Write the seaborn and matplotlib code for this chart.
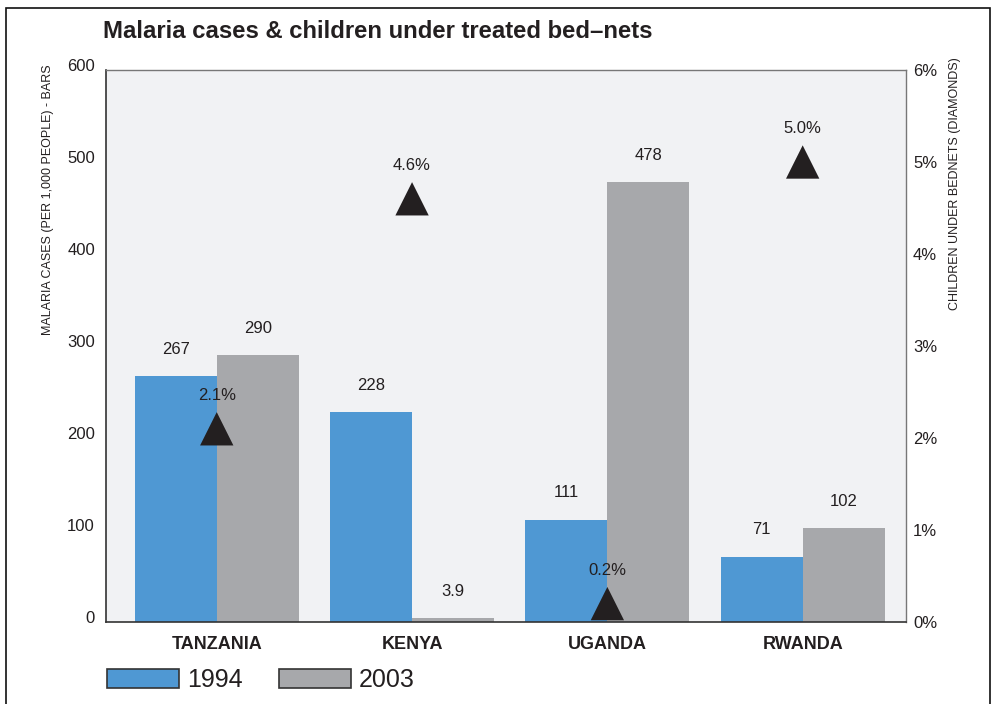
import matplotlib
matplotlib.use("Agg")
import matplotlib.pyplot as plt
import matplotlib.transforms as mtransforms
from matplotlib.patches import Patch, Rectangle
import seaborn as sns
import pandas as pd

countries = ["TANZANIA", "KENYA", "UGANDA", "RWANDA"]
years = ["1994", "2003"]
cases_1994 = [267, 228, 111, 71]
cases_2003 = [290, 3.9, 478, 102]
bednets_pct = [2.1, 4.6, 0.2, 5.0]
left_ticks = [0, 100, 200, 300, 400, 500, 600]
right_ticks = [0, 1, 2, 3, 4, 5, 6]

title = "Malaria cases & children under treated bed\u2013nets"
left_label = "MALARIA CASES (PER 1,000 PEOPLE) - BARS"
right_label = "CHILDREN UNDER BEDNETS (DIAMONDS)"

BLUE = "#4f98d3"
GRAY = "#a7a8ab"
DARK = "#231f20"
BG = "#f1f2f4"

sns.set_style("white")
plt.rcParams["font.family"] = ["Liberation Sans", "DejaVu Sans"]

df = pd.DataFrame({
    "country": countries * 2,
    "year": [years[0]] * 4 + [years[1]] * 4,
    "cases": cases_1994 + cases_2003,
})

fig = plt.figure(figsize=(9.94, 7.04), dpi=100)
ax = fig.add_axes([106 / 994, 1 - 622 / 704, 800 / 994, 552 / 704])
ax.set_facecolor(BG)

sns.barplot(data=df, x="country", y="cases", hue="year", order=countries,
            hue_order=years, palette={years[0]: BLUE, years[1]: GRAY},
            width=0.84, gap=0, saturation=1, legend=False, linewidth=0,
            edgecolor="none", ax=ax)

for cont in ax.containers:
    vals = [b.get_height() for b in cont]
    ax.bar_label(cont, labels=[f"{v:g}" for v in vals], padding=14,
                 fontsize=12, color=DARK)

XLIM = (-0.567, 3.529)
ax.set_xlim(*XLIM)
ax.set_ylim(0, 600)
ax.set_yticks(left_ticks)
ax.set_yticklabels([str(t) for t in left_ticks])
ax.set_xlabel("")
ax.set_ylabel("")
ax.tick_params(axis="y", length=0, pad=8, labelsize=12, labelcolor=DARK)
ax.tick_params(axis="x", length=0, pad=10, labelsize=13, labelcolor=DARK)
for lab in ax.get_xticklabels():
    lab.set_fontweight("bold")
off = mtransforms.ScaledTranslation(0, 5 / 100, fig.dpi_scale_trans)
for lab in ax.get_yticklabels():
    lab.set_transform(lab.get_transform() + off)

for side in ["top", "right"]:
    ax.spines[side].set_color("#777777")
    ax.spines[side].set_linewidth(1.0)
for side in ["left", "bottom"]:
    ax.spines[side].set_color("#333333")
    ax.spines[side].set_linewidth(1.2)

ax2 = ax.twinx()
ax2.set_ylim(0, 6)
ax2.set_yticks(right_ticks)
ax2.set_yticklabels([f"{t}%" for t in right_ticks])
ax2.tick_params(axis="y", length=0, pad=5, labelsize=12, labelcolor=DARK)
for s in ax2.spines.values():
    s.set_visible(False)

pts = pd.DataFrame({"x": list(range(len(countries))), "pct": bednets_pct})
sns.scatterplot(data=pts, x="x", y="pct", marker="^", s=24 ** 2, color=DARK,
                edgecolor="none", linewidth=0, legend=False, ax=ax2, zorder=5)
ax2.set_xlabel("")
ax2.set_ylabel("")
ax.set_xlim(*XLIM)
for i, v in enumerate(bednets_pct):
    ax2.annotate(f"{v:.1f}%", (i, v), xytext=(0, 24), textcoords="offset points",
                 ha="center", va="center", fontsize=12, color=DARK, zorder=6)

fig.text(103 / 994, 1 - 32 / 704, title, fontsize=17.2, fontweight="bold",
         color=DARK, ha="left", va="center")
fig.text(48 / 994, 1 - 64 / 704, left_label, rotation=90, fontsize=9,
         color=DARK, ha="center", va="top")
fig.text(955 / 994, 1 - 57 / 704, right_label, rotation=90, fontsize=9,
         color=DARK, ha="center", va="top")

handles = [Patch(facecolor=BLUE, edgecolor="#333333", linewidth=1.2),
           Patch(facecolor=GRAY, edgecolor="#333333", linewidth=1.2)]
fig.legend(handles, years, loc="upper left",
           bbox_to_anchor=(107 / 994, 1 - 668 / 704), ncol=2, frameon=False,
           fontsize=18, handlelength=2.88, handleheight=0.8,
           handletextpad=0.32, columnspacing=1.45, borderpad=0,
           borderaxespad=0, labelcolor=DARK)

fig.patches.append(Rectangle((6 / 994, -0.02), 984 / 994, 1.02 - 8 / 704,
                             transform=fig.transFigure, fill=False,
                             edgecolor="#111111", linewidth=1.2))

fig.savefig("out.png", dpi=100)
